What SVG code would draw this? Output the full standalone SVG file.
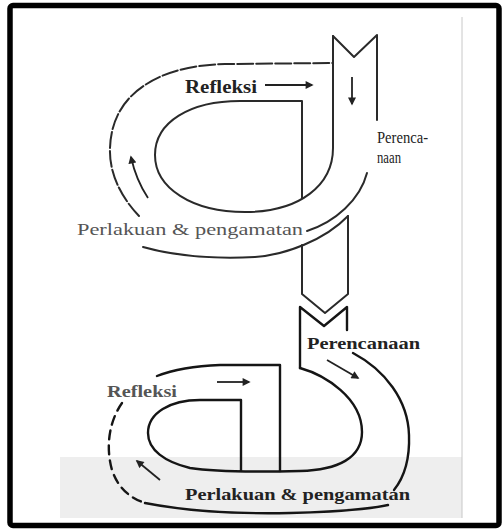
<svg xmlns="http://www.w3.org/2000/svg" width="504" height="529" viewBox="0 0 504 529">
<defs>
<marker id="ah" viewBox="0 0 10 10" refX="8" refY="5" markerUnits="userSpaceOnUse" markerWidth="9" markerHeight="8" orient="auto">
<path d="M0,0 L10,5 L0,10 z" fill="#222"/>
</marker>
<style>
.ln{fill:none;stroke:#2a2a2a;stroke-width:2;stroke-linecap:round;stroke-linejoin:round}
.lb{fill:none;stroke:#151515;stroke-width:2.4;stroke-linecap:round;stroke-linejoin:round}
.dash{stroke-dasharray:16 3}
.dash2{stroke-dasharray:9 6}
.arr{fill:none;stroke:#222;stroke-width:1.8;marker-end:url(#ah)}
.t{font-family:"Liberation Serif","Times New Roman",serif;fill:#222}
.tg{font-family:"Liberation Serif","Times New Roman",serif;fill:#555}
</style>
</defs>
<rect x="0" y="0" width="504" height="529" fill="#ffffff"/>
<g id="scan">
<rect x="60" y="457" width="402" height="61" fill="#eeeeee"/>
<line x1="462" y1="17" x2="462" y2="518" stroke="#c8c8c8" stroke-width="1"/>
</g>
<g id="frame">
<rect x="10" y="5.5" width="489" height="520" rx="3" fill="none" stroke="#000" stroke-width="5.5"/>
</g>
<g id="ribbon">
<!-- cycle 1 -->
<path class="ln" d="M333,36 L354,57 L377,35 L377,120"/>
<path class="ln" d="M333,36 L333,148 C333,185 300,212 245,212 C192,212 155,188 155,155 C155,122 190,101 240,101 L302,101 L302,198"/>
<path class="ln dash" d="M139,216 C120,196 109,172 110,148 C111,118 125,98 145,85 C165,72 190,65 225,64 L333,63"/>
<path class="ln" d="M367,173 C360,200 335,222 307,231"/>
<path class="ln" d="M143,247 C175,256 215,259 255,257 C285,255 325,240 348,216"/>
<path class="ln" d="M302,245 L302,294 L325,313 L348,294 L348,216"/>
<!-- cycle 2 -->
<path class="lb" d="M300,368 L300,307 L324,326 L347,307 L347,330"/>
<path class="lb" d="M300,368 C325,375 362,398 362,432 C362,458 338,470 300,471 C260,472 215,472 190,468 C165,462 148,450 148,433 C148,413 170,400 200,400 L241,400 L241,471"/>
<path class="lb" d="M157,376 C175,369 195,366 220,365 L280,365 L280,471"/>
<path class="lb" d="M353,353 C385,370 408,400 409,435 C410,462 402,480 394,490"/>
<path class="lb dash2" d="M122,403 C110,420 105,445 112,470 C118,488 130,498 145,503"/>
<path class="lb" d="M145,503 C190,512 240,514 290,513 C330,512 365,510 388,505"/>
</g>
<g id="connectors">
<line class="arr" x1="265" y1="85" x2="312" y2="85"/>
<line class="arr" x1="352" y1="77" x2="352" y2="104"/>
<path class="arr" d="M148,198 Q136,180 131,157"/>
<line class="arr" x1="327" y1="360" x2="358" y2="378"/>
<line class="arr" x1="217" y1="382" x2="249" y2="382"/>
<line class="arr" x1="160" y1="480" x2="137" y2="461"/>
</g>
<g id="refleksi-1"><text class="t" x="185" y="93" font-size="19" font-weight="bold" fill="#333" textLength="72" lengthAdjust="spacingAndGlyphs">Refleksi</text></g>
<g id="perencanaan-1"><text class="t" x="377" y="143" font-size="16" textLength="51" lengthAdjust="spacingAndGlyphs">Perenca-</text><text class="t" x="377" y="163" font-size="16" textLength="24" lengthAdjust="spacingAndGlyphs">naan</text></g>
<g id="perlakuan-1"><text class="tg" x="77" y="235" font-size="17" textLength="226" lengthAdjust="spacingAndGlyphs">Perlakuan &amp; pengamatan</text></g>
<g id="perencanaan-2"><text class="t" x="307" y="349" font-size="16" font-weight="bold" textLength="113" lengthAdjust="spacingAndGlyphs">Perencanaan</text></g>
<g id="refleksi-2"><text class="tg" x="107" y="397" font-size="17" font-weight="bold" textLength="70" lengthAdjust="spacingAndGlyphs">Refleksi</text></g>
<g id="perlakuan-2"><text class="t" x="185" y="500" font-size="17" font-weight="bold" textLength="225" lengthAdjust="spacingAndGlyphs">Perlakuan &amp; pengamatan</text></g>
</svg>
